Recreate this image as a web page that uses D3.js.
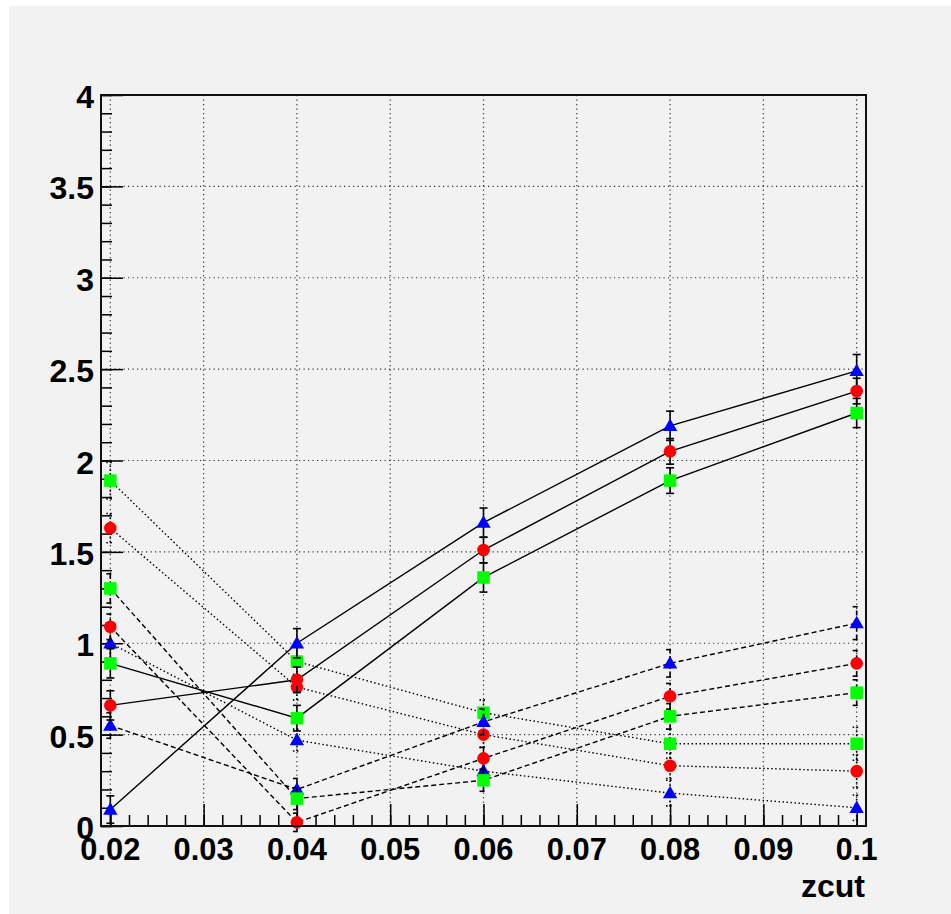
<!DOCTYPE html>
<html>
<head>
<meta charset="utf-8">
<script src="https://cdn.jsdelivr.net/npm/d3@7"></script>
<style>
  html, body { margin: 0; padding: 0; background: #ffffff; }
  svg { display: block; }
  .lbl { font-family: "Liberation Sans", Arial, sans-serif; font-weight: bold; font-size: 32px; fill: #000; }
</style>
</head>
<body>
<svg id="chart" width="951" height="914"></svg>
<script>
// x positions of the measurements
const zcut = [0.02, 0.04, 0.06, 0.08, 0.1];

// axis tick labels
const xTickValues = [0.02, 0.03, 0.04, 0.05, 0.06, 0.07, 0.08, 0.09, 0.1];
const xTickLabels = ["0.02", "0.03", "0.04", "0.05", "0.06", "0.07", "0.08", "0.09", "0.1"];
const yTickValues = [0, 0.5, 1, 1.5, 2, 2.5, 3, 3.5, 4];
const yTickLabels = ["0", "0.5", "1", "1.5", "2", "2.5", "3", "3.5", "4"];
const xTitle = "zcut";

// solid graphs
const blueSolid      = [0.09, 1.00, 1.66, 2.19, 2.49];
const blueSolidErr   = [0.075, 0.08, 0.08, 0.08, 0.09];
const redSolid       = [0.66, 0.80, 1.51, 2.05, 2.38];
const redSolidErr    = [0.08, 0.07, 0.07, 0.07, 0.07];
const greenSolid     = [0.89, 0.59, 1.36, 1.89, 2.26];
const greenSolidErr  = [0.08, 0.07, 0.08, 0.07, 0.08];

// dashed graphs
const blueDashed     = [0.55, 0.20, 0.57, 0.89, 1.11];
const blueDashedErr  = [0.07, 0.06, 0.07, 0.075, 0.09];
const redDashed      = [1.09, 0.02, 0.37, 0.71, 0.89];
const redDashedErr   = [0.07, 0.05, 0.06, 0.07, 0.07];
const greenDashed    = [1.30, 0.15, 0.25, 0.60, 0.73];
const greenDashedErr = [0.08, 0.06, 0.06, 0.07, 0.07];

// dotted graphs
const blueDotted     = [1.00, 0.47, 0.30, 0.18, 0.10];
const blueDottedErr  = [0.08, 0.06, 0.06, 0.07, 0.07];
const redDotted      = [1.63, 0.76, 0.50, 0.33, 0.30];
const redDottedErr   = [0.08, 0.07, 0.07, 0.07, 0.09];
const greenDotted    = [1.89, 0.90, 0.62, 0.45, 0.45];
const greenDottedErr = [0.10, 0.08, 0.07, 0.08, 0.09];

const BLUE = "#0000ff", RED = "#ff0000", GREEN = "#00ff00";
const graphs = [
  { y: blueDotted,  e: blueDottedErr,  color: BLUE,  marker: "triangle", dash: "1.5,2.5" },
  { y: redDotted,   e: redDottedErr,   color: RED,   marker: "circle",   dash: "1.5,2.5" },
  { y: greenDotted, e: greenDottedErr, color: GREEN, marker: "square",   dash: "1.5,2.5" },
  { y: blueDashed,  e: blueDashedErr,  color: BLUE,  marker: "triangle", dash: "5,3" },
  { y: redDashed,   e: redDashedErr,   color: RED,   marker: "circle",   dash: "5,3" },
  { y: greenDashed, e: greenDashedErr, color: GREEN, marker: "square",   dash: "5,3" },
  { y: blueSolid,   e: blueSolidErr,   color: BLUE,  marker: "triangle", dash: null },
  { y: redSolid,    e: redSolidErr,    color: RED,   marker: "circle",   dash: null },
  { y: greenSolid,  e: greenSolidErr,  color: GREEN, marker: "square",   dash: null }
];

const svg = d3.select("#chart");

// canvas background
svg.append("rect").attr("x", 9).attr("y", 6).attr("width", 942).attr("height", 908).attr("fill", "#f2f2f2");

const frame = { left: 101, right: 866, top: 95, bottom: 826 };
const x = d3.scaleLinear().domain([0.019, 0.101]).range([frame.left, frame.right]);
const y = d3.scaleLinear().domain([0, 4]).range([frame.bottom, frame.top]);

// grid
const grid = svg.append("g").attr("stroke", "#333").attr("stroke-width", 1.2).attr("stroke-dasharray", "1.2,3.3");
grid.selectAll("line.gx").data(xTickValues).join("line")
  .attr("x1", d => x(d)).attr("x2", d => x(d)).attr("y1", frame.top).attr("y2", frame.bottom);
grid.selectAll("line.gy").data(yTickValues).join("line")
  .attr("y1", d => y(d)).attr("y2", d => y(d)).attr("x1", frame.left).attr("x2", frame.right);

// minor and major ticks, pointing into the frame
const xMinor = d3.range(0, 41).map(i => +(0.02 + i * 0.002).toFixed(3));
const yMinor = d3.range(0, 41).map(i => +(i * 0.1).toFixed(2));

function styleAxis(g) {
  g.select(".domain").remove();
  g.selectAll(".tick line").attr("stroke", "#000").attr("stroke-width", 1.5);
}

svg.append("g").attr("transform", `translate(0,${frame.bottom})`)
  .call(d3.axisBottom(x).tickValues(xMinor).tickSize(-11).tickFormat(""))
  .call(styleAxis);
svg.append("g").attr("transform", `translate(0,${frame.bottom})`)
  .call(d3.axisBottom(x).tickValues(xTickValues).tickSize(-22).tickFormat(""))
  .call(styleAxis);
svg.append("g").attr("transform", `translate(${frame.left},0)`)
  .call(d3.axisLeft(y).tickValues(yMinor).tickSize(-11).tickFormat(""))
  .call(styleAxis);
svg.append("g").attr("transform", `translate(${frame.left},0)`)
  .call(d3.axisLeft(y).tickValues(yTickValues).tickSize(-22).tickFormat(""))
  .call(styleAxis);

// graphs: line, error bars, markers
const line = d3.line().x((d, i) => x(zcut[i])).y(d => y(d));
const cap = 4;

graphs.forEach(gr => {
  const g = svg.append("g");
  g.append("path").datum(gr.y).attr("d", line)
    .attr("fill", "none").attr("stroke", "#000").attr("stroke-width", 1.4)
    .attr("stroke-dasharray", gr.dash);

  const eb = g.append("g").attr("stroke", "#000").attr("stroke-width", 1.6)
    .attr("stroke-dasharray", gr.dash);
  gr.y.forEach((v, i) => {
    const cx = x(zcut[i]);
    const y0 = y(v - gr.e[i]), y1 = y(v + gr.e[i]);
    eb.append("line").attr("x1", cx).attr("x2", cx).attr("y1", y0).attr("y2", y1);
    eb.append("line").attr("x1", cx - cap).attr("x2", cx + cap).attr("y1", y0).attr("y2", y0);
    eb.append("line").attr("x1", cx - cap).attr("x2", cx + cap).attr("y1", y1).attr("y2", y1);
  });

  const symType = gr.marker === "circle" ? d3.symbolCircle
                : gr.marker === "square" ? d3.symbolSquare : d3.symbolTriangle;
  const size = gr.marker === "circle" ? 125 : gr.marker === "square" ? 156 : 90;
  g.selectAll("path.m").data(gr.y).join("path")
    .attr("class", "m")
    .attr("d", d3.symbol().type(symType).size(size))
    .attr("transform", (d, i) => `translate(${x(zcut[i])},${y(d) + (gr.marker === "triangle" ? 1 : 0)})`)
    .attr("fill", gr.color);
});

// frame
svg.append("rect")
  .attr("x", frame.left).attr("y", frame.top)
  .attr("width", frame.right - frame.left).attr("height", frame.bottom - frame.top)
  .attr("fill", "none").attr("stroke", "#111").attr("stroke-width", 2);

// tick labels
svg.selectAll("text.xl").data(xTickValues).join("text")
  .attr("class", "lbl").attr("text-anchor", "middle")
  .attr("x", d => x(d)).attr("y", 860)
  .attr("textLength", (d, i) => xTickLabels[i].length === 4 ? 60 : 42)
  .attr("lengthAdjust", "spacingAndGlyphs")
  .text((d, i) => xTickLabels[i]);
svg.selectAll("text.yl").data(yTickValues).join("text")
  .attr("class", "lbl").attr("text-anchor", "end")
  .attr("x", 94).attr("y", d => y(d) + 13)
  .text((d, i) => yTickLabels[i]);

// axis title
svg.append("text").attr("class", "lbl").attr("text-anchor", "end")
  .attr("x", 865).attr("y", 897).text(xTitle);
</script>
</body>
</html>
